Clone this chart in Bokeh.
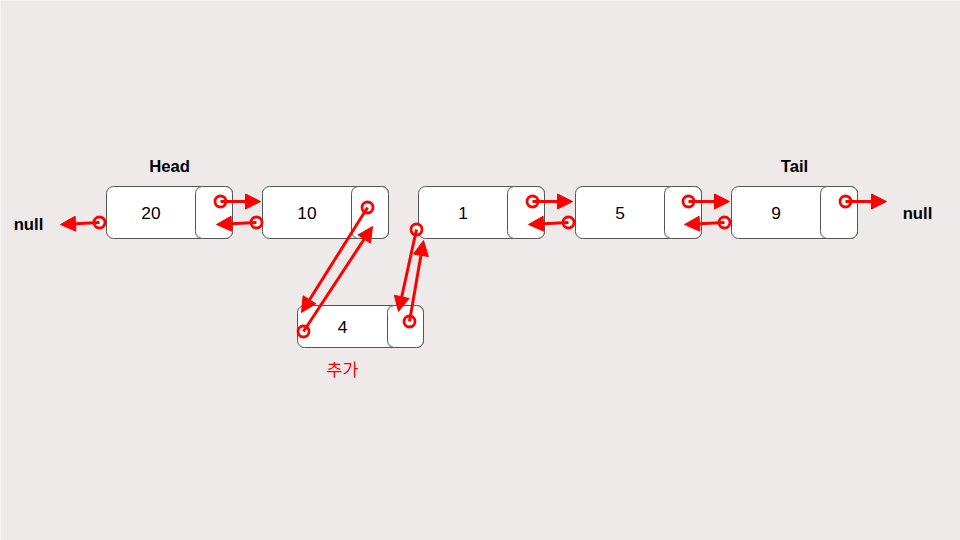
from bokeh.plotting import figure
from bokeh.models import Arrow, NormalHead
from bokeh.core.properties import value
from bokeh.embed import file_html
from bokeh.resources import INLINE

values = ["20", "10", "1", "5", "9"]
inserted = "4"
labels = ["Head", "Tail", "null", "추가"]

node_x = [106, 262, 418, 575, 731]
NW, PW, NY0, NY1 = 126, 37, 186, 238
ins = (297, 305, 423, 347, 387)

p = figure(width=960, height=540, x_range=(0, 960), y_range=(540, 0),
           output_backend="svg", toolbar_location=None, min_border=0)
p.axis.visible = False
p.grid.visible = False
p.outline_line_color = None
p.background_fill_color = "#eeeaea"
p.border_fill_color = "#eeeaea"

def node(x0, y0, x1, y1, div, txt, size="13pt"):
    p.quad(left=x0, right=x1, top=y0, bottom=y1, fill_color="white",
           line_color="#555555", line_width=1, border_radius=7)
    p.quad(left=div, right=x1, top=y0, bottom=y1, fill_color="white",
           line_color="#555555", line_width=1, border_radius=7)
    p.text(x=[(x0 + div) / 2], y=[(y0 + y1) / 2], text=[txt],
           text_align="center", text_baseline="middle",
           text_font=value("Liberation Sans"), text_font_size=size, text_color="black")

for x, v in zip(node_x, values):
    node(x, NY0, x + NW, NY1, x + NW - PW, v)
node(ins[0], ins[1], ins[2], ins[3], ins[4], inserted)

arrows = [
    (220, 201, 260, 201), (256, 222, 216, 224), (99, 222, 60, 224),
    (367, 207, 301, 312), (303, 331, 372, 226),
    (416, 229, 398, 311), (409, 321, 423, 240),
    (532, 201, 572, 201), (568, 222, 528, 224),
    (688, 201, 729, 201), (724, 222, 684, 224),
    (845, 201, 886, 201),
]
for x0, y0, x1, y1 in arrows:
    p.add_layout(Arrow(x_start=x0, y_start=y0, x_end=x1, y_end=y1,
                       line_color="red", line_width=3,
                       end=NormalHead(size=15, fill_color="red", line_color="red", line_width=1)))
p.scatter(x=[a[0] for a in arrows], y=[a[1] for a in arrows], size=11,
          fill_color="white", line_color="red", line_width=2.8)

bold = dict(text_font=value("Liberation Sans"), text_font_size="12.5pt",
            text_font_style="bold", text_color="black", text_baseline="middle")
p.text(x=[169, 794], y=[166, 166], text=labels[:2], text_align="center", **bold)
p.text(x=[28, 917], y=[224, 213], text=[labels[2]] * 2, text_align="center", **bold)
p.text(x=[342], y=[368], text=[labels[3]], text_align="center", text_baseline="middle",
       text_font=value("Noto Sans CJK KR"), text_font_size="13pt", text_color="red")

open("out.html", "w").write(file_html(p, INLINE))
